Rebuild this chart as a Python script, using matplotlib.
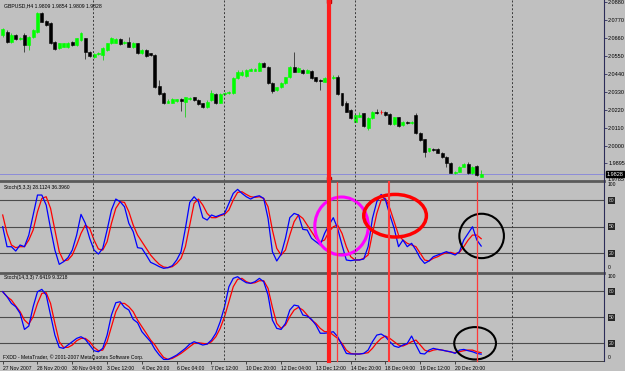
import numpy as np
import matplotlib
matplotlib.use("Agg")
import matplotlib.pyplot as plt
from matplotlib.patches import Ellipse
from matplotlib.lines import Line2D
from matplotlib.transforms import blended_transform_factory

plt.rcParams['font.family'] = ['Liberation Sans', 'DejaVu Sans']

# GBPUSD H4, bar 0 = 27 Nov 2007 12:00
opens = [2.0678, 2.0698, 2.0637, 2.0678, 2.0652, 2.0678, 2.0617, 2.0668, 2.0698, 2.0811,
         2.0766, 2.0749, 2.0637, 2.0597, 2.0607, 2.0603, 2.0637, 2.0617, 2.0648, 2.0658,
         2.0576, 2.0542, 2.0562, 2.0556, 2.0586, 2.0627, 2.0631, 2.0652, 2.0627, 2.0637,
         2.0603, 2.0627, 2.0566, 2.0586, 2.0566, 2.0556, 2.0366, 2.0326, 2.0265, 2.0265,
         2.0277, 2.0289, 2.0271, 2.0289, 2.0297, 2.0281, 2.0261, 2.0240, 2.0281, 2.0318,
         2.0265, 2.0318, 2.0322, 2.0322, 2.0413, 2.0434, 2.0428, 2.0460, 2.0460, 2.0460,
         2.0509, 2.0485, 2.0383, 2.0342, 2.0358, 2.0383, 2.0419, 2.0485, 2.0454, 2.0464,
         2.0448, 2.0460, 2.0419, 2.0405, 2.0393, 2.0409, 2.0413, 2.0419, 2.0322, 2.0261,
         2.0220, 2.0149, 2.0179, 2.0199, 2.0108, 2.0169, 2.0210, 2.0206, 2.0210, 2.0195,
         2.0134, 2.0175, 2.0128, 2.0144, 2.0138, 2.0189, 2.0081, 2.0041, 1.9971, 1.9981,
         1.9979, 1.9959, 1.9935, 1.9898, 1.9833, 1.9843, 1.9874, 1.9890, 1.9833, 1.9878,
         1.9809]
highs = [2.0719, 2.0709, 2.0688, 2.0683, 2.0668, 2.0688, 2.0673, 2.0713, 2.0821, 2.0821,
         2.0770, 2.0755, 2.0642, 2.0631, 2.0631, 2.0637, 2.0642, 2.0662, 2.0698, 2.0662,
         2.0580, 2.0566, 2.0576, 2.0603, 2.0631, 2.0668, 2.0658, 2.0658, 2.0640, 2.0664,
         2.0637, 2.0631, 2.0591, 2.0591, 2.0570, 2.0560, 2.0403, 2.0332, 2.0285, 2.0291,
         2.0289, 2.0293, 2.0301, 2.0301, 2.0301, 2.0285, 2.0265, 2.0281, 2.0342, 2.0322,
         2.0322, 2.0332, 2.0336, 2.0419, 2.0464, 2.0464, 2.0470, 2.0474, 2.0474, 2.0515,
         2.0515, 2.0490, 2.0388, 2.0362, 2.0388, 2.0424, 2.0490, 2.0576, 2.0480, 2.0470,
         2.0470, 2.0464, 2.0424, 2.0409, 2.0419, 2.0419, 2.0434, 2.0434, 2.0326, 2.0277,
         2.0226, 2.0195, 2.0210, 2.0203, 2.0175, 2.0216, 2.0226, 2.0220, 2.0216, 2.0199,
         2.0179, 2.0179, 2.0155, 2.0155, 2.0150, 2.0199, 2.0085, 2.0045, 1.9990, 1.9987,
         1.9985, 1.9963, 1.9940, 1.9902, 1.9850, 1.9878, 1.9894, 1.9904, 1.9878, 1.9882,
         1.9854]
lows = [2.0668, 2.0627, 2.0631, 2.0648, 2.0648, 2.0576, 2.0586, 2.0662, 2.0693, 2.0755,
        2.0734, 2.0623, 2.0586, 2.0591, 2.0603, 2.0597, 2.0612, 2.0612, 2.0642, 2.0529,
        2.0546, 2.0536, 2.0556, 2.0525, 2.0580, 2.0623, 2.0627, 2.0617, 2.0623, 2.0603,
        2.0597, 2.0562, 2.0562, 2.0546, 2.0552, 2.0352, 2.0311, 2.0256, 2.0261, 2.0261,
        2.0271, 2.0216, 2.0179, 2.0283, 2.0277, 2.0250, 2.0230, 2.0230, 2.0277, 2.0256,
        2.0261, 2.0311, 2.0318, 2.0318, 2.0409, 2.0428, 2.0424, 2.0456, 2.0456, 2.0456,
        2.0480, 2.0378, 2.0322, 2.0338, 2.0352, 2.0378, 2.0413, 2.0450, 2.0450, 2.0440,
        2.0444, 2.0409, 2.0393, 2.0342, 2.0388, 2.0405, 2.0409, 2.0311, 2.0246, 2.0206,
        2.0165, 2.0145, 2.0175, 2.0118, 2.0100, 2.0165, 2.0195, 2.0195, 2.0183, 2.0128,
        2.0128, 2.0118, 2.0124, 2.0134, 2.0134, 2.0073, 2.0032, 1.9935, 1.9965, 1.9971,
        1.9955, 1.9927, 1.9874, 1.9833, 1.9829, 1.9839, 1.9870, 1.9829, 1.9829, 1.9819,
        1.9809]
closes = [2.0713, 2.0637, 2.0678, 2.0652, 2.0662, 2.0617, 2.0668, 2.0709, 2.0811, 2.0760,
          2.0739, 2.0627, 2.0591, 2.0627, 2.0627, 2.0631, 2.0617, 2.0658, 2.0688, 2.0576,
          2.0550, 2.0562, 2.0570, 2.0597, 2.0627, 2.0658, 2.0652, 2.0623, 2.0635, 2.0607,
          2.0631, 2.0566, 2.0586, 2.0550, 2.0556, 2.0362, 2.0318, 2.0261, 2.0277, 2.0285,
          2.0285, 2.0277, 2.0297, 2.0295, 2.0281, 2.0256, 2.0236, 2.0271, 2.0322, 2.0261,
          2.0318, 2.0326, 2.0330, 2.0413, 2.0454, 2.0454, 2.0464, 2.0468, 2.0468, 2.0505,
          2.0485, 2.0383, 2.0338, 2.0358, 2.0383, 2.0419, 2.0485, 2.0454, 2.0474, 2.0444,
          2.0464, 2.0413, 2.0399, 2.0399, 2.0413, 2.0415, 2.0419, 2.0318, 2.0250, 2.0210,
          2.0169, 2.0189, 2.0189, 2.0122, 2.0169, 2.0210, 2.0199, 2.0206, 2.0189, 2.0134,
          2.0175, 2.0122, 2.0149, 2.0140, 2.0146, 2.0077, 2.0036, 1.9965, 1.9985, 1.9977,
          1.9959, 1.9931, 1.9898, 1.9837, 1.9843, 1.9874, 1.9890, 1.9833, 1.9870, 1.9823,
          1.9828]

# Stoch(5,3,3): main (blue) and signal (red)
stoch5_main = [49.9, 27.4, 27.4, 22.5, 29.3, 27.4, 40.5, 63.1, 85.6, 85.6,
               74.3, 48.0, 23.6, 7.5, 10.5, 15.0, 23.6, 40.5, 63.8, 53.7,
               36.8, 23.6, 19.1, 25.5, 46.2, 68.7, 81.1, 78.1, 72.4, 53.7,
               44.3, 26.3, 25.5, 18.0, 9.8, 7.5, 4.9, 3.0, 3.8, 6.0,
               12.4, 21.8, 48.0, 77.3, 83.7, 78.1, 60.1, 57.4, 63.1, 61.2,
               63.1, 64.9, 76.2, 87.5, 92.0, 87.5, 83.7, 81.1, 83.7, 84.8,
               81.8, 59.3, 21.8, 11.3, 18.8, 36.8, 60.1, 64.9, 63.1, 46.9,
               46.2, 36.8, 33.0, 29.3, 42.4, 51.8, 60.1, 48.0, 29.3, 12.4,
               11.6, 12.4, 12.4, 13.5, 27.4, 59.3, 78.1, 86.3, 80.0, 63.1,
               48.0, 27.4, 34.9, 27.4, 31.2, 23.6, 14.3, 8.6, 11.3, 16.1,
               18.0, 19.9, 21.8, 19.9, 18.0, 21.8, 34.9, 42.4, 49.9, 34.9,
               28.11]
stoch5_signal = [63.1, 42.4, 29.3, 26.3, 27.4, 27.4, 34.9, 46.2, 66.8, 81.8,
                 83.7, 70.6, 46.2, 21.8, 11.3, 12.4, 18.0, 29.3, 42.4, 51.8,
                 48.0, 34.9, 24.8, 23.6, 33.0, 53.7, 70.6, 78.1, 77.3, 66.8,
                 51.8, 40.5, 33.0, 25.5, 18.0, 12.4, 7.5, 4.5, 3.8, 4.9,
                 8.6, 14.3, 27.4, 51.8, 76.2, 81.1, 74.3, 64.9, 60.1, 60.1,
                 62.3, 63.8, 68.7, 80.0, 88.6, 89.3, 86.3, 83.7, 83.0, 83.7,
                 81.8, 72.4, 46.2, 25.5, 18.0, 23.6, 40.5, 55.6, 63.1, 59.3,
                 51.8, 44.3, 36.8, 33.0, 34.9, 44.3, 49.9, 51.8, 42.4, 27.4,
                 16.1, 12.4, 12.4, 14.3, 18.0, 42.4, 64.9, 80.0, 81.8, 70.6,
                 55.6, 40.5, 34.9, 31.2, 29.3, 27.4, 19.9, 12.4, 11.3, 14.3,
                 16.1, 18.8, 20.6, 21.0, 19.5, 21.0, 27.4, 34.9, 40.5, 40.5,
                 36.40]

# Stoch(14,3,3)
stoch14_main = [79.2, 73.5, 65.8, 62.0, 54.4, 36.0, 39.9, 62.0, 79.2, 81.9,
                75.4, 52.5, 29.5, 15.4, 14.3, 18.1, 21.9, 25.7, 27.6, 24.6,
                18.1, 11.6, 10.4, 14.3, 29.5, 52.5, 66.6, 67.7, 61.3, 58.2,
                47.5, 43.7, 33.4, 27.6, 21.9, 13.1, 6.6, 1.6, 1.6, 3.9,
                6.6, 10.4, 14.3, 19.2, 21.9, 20.0, 18.1, 19.2, 23.8, 31.6,
                44.8, 62.0, 84.9, 94.5, 96.4, 92.6, 89.5, 88.8, 90.7, 94.5,
                90.7, 75.4, 46.7, 37.2, 36.0, 42.9, 58.2, 63.9, 62.8, 52.5,
                51.3, 47.5, 41.0, 31.6, 31.6, 32.2, 33.4, 27.6, 18.1, 8.5,
                7.8, 7.8, 7.8, 8.5, 12.3, 21.9, 29.5, 30.7, 27.6, 21.9,
                16.9, 15.4, 18.1, 20.0, 28.4, 18.1, 8.5, 7.8, 12.3, 14.3,
                13.1, 12.3, 11.2, 10.4, 8.5, 12.3, 13.1, 11.6, 10.4, 8.5,
                7.64]
stoch14_signal = [79.2, 73.5, 69.7, 62.8, 56.3, 46.7, 42.1, 50.6, 65.8, 77.3,
                  78.1, 65.8, 42.9, 21.9, 15.4, 15.4, 18.1, 23.0, 25.7, 25.7,
                  21.9, 15.4, 11.6, 12.3, 21.9, 39.1, 56.3, 65.8, 65.8, 62.0,
                  56.3, 46.7, 39.1, 31.6, 23.8, 18.1, 10.4, 3.9, 1.6, 2.8,
                  5.5, 8.5, 12.3, 16.2, 20.0, 20.7, 20.0, 19.2, 21.9, 27.6,
                  37.2, 50.6, 67.7, 84.9, 93.4, 94.5, 90.7, 88.8, 89.5, 91.8,
                  91.8, 83.0, 61.3, 42.9, 37.2, 41.0, 50.6, 58.2, 61.3, 58.2,
                  52.5, 46.7, 42.9, 37.2, 33.4, 33.4, 29.5, 25.7, 20.0, 12.3,
                  8.5, 7.8, 7.8, 8.5, 9.3, 14.3, 20.7, 25.7, 28.4, 25.7,
                  21.9, 18.1, 16.9, 19.2, 21.9, 23.8, 18.1, 12.3, 10.4, 12.3,
                  13.1, 12.3, 11.2, 10.0, 9.3, 10.4, 11.6, 12.3, 12.3, 10.4,
                  9.32]

price_ticks = [2.0880, 2.0770, 2.0660, 2.0550, 2.0440, 2.0330, 2.0220, 2.0110, 2.0000, 1.9895]
date_labels = ["27 Nov 2007", "28 Nov 20:00", "30 Nov 04:00", "3 Dec 12:00", "4 Dec 20:00",
               "6 Dec 04:00", "7 Dec 12:00", "10 Dec 20:00", "12 Dec 04:00", "13 Dec 12:00",
               "14 Dec 20:00", "18 Dec 04:00", "19 Dec 12:00", "20 Dec 20:00"]
stoch_levels = [20, 50, 80]
grid_bars = [20.8, 50.9, 81.0, 117.1]
marked_bar = 75                     # thick red vertical line
signal_bars = [76.8, 88.9, 109.0]   # thin red lines in the oscillator windows

BG = '#c0c0c0'
W, H = 625.0, 371.0
n = len(opens)
bars = np.arange(n)
o = np.array(opens); c = np.array(closes)
hi = np.array(highs); lo = np.array(lows)

fig = plt.figure(figsize=(W / 100, H / 100), dpi=100, facecolor=BG)


def box(top, bottom):
    return [0, (H - bottom) / H, 604 / W, (bottom - top) / H]


def fy(px):
    return (H - px) / H


ax0 = fig.add_axes(box(0, 179.5))
ax1 = fig.add_axes(box(182, 271))
ax2 = fig.add_axes(box(274, 361))
for ax in (ax0, ax1, ax2):
    ax.set_facecolor(BG)
    for s in ax.spines.values():
        s.set_visible(False)
    ax.set_xlim(-0.62, 138.23)
    ax.set_xticks([])
    ax.set_yticks([])

# candles
body_col = np.where(c > o, '#00ff00', np.where(c < o, '#000000', '#ff0000'))
wick_col = np.where(c > o, '#20d020', np.where(c < o, '#303030', '#ff0000'))
ax0.vlines(bars, lo, hi, colors=wick_col, linewidth=0.6, zorder=2)
ax0.bar(bars, np.abs(c - o), bottom=np.minimum(o, c), width=0.68, color=body_col,
        edgecolor=body_col, linewidth=0.4, zorder=3)
ax0.set_ylim(1.97953, 2.0892)
ax0.axhline(c[-1], color='#8c8cd8', linewidth=0.7, zorder=1)

ax0.yaxis.tick_right()
ax0.set_yticks(price_ticks)
ax0.set_yticklabels(['%.4f' % p for p in price_ticks])
ax0.tick_params(axis='y', length=2, width=0.6, color='#303060', labelsize=4, pad=1)
ax0.text(1.004, c[-1], '%.4f' % c[-1], transform=ax0.get_yaxis_transform(),
         fontsize=4, color='white', va='center', ha='left',
         bbox=dict(boxstyle='square,pad=0.15', fc='black', ec='black'))
ax0.text(1.006, 0.0, '1.9785', transform=ax0.transAxes, fontsize=4, va='center', ha='left')
fig.text(4 / W, fy(5.5), "GBPUSD,H4 1.9809 1.9854 1.9809 1.9828", fontsize=3.7, va='center')

# handles of the selected vertical line
tr0 = blended_transform_factory(ax0.transData, ax0.transAxes)
ax0.plot([marked_bar, marked_bar], [0.992, 0.005], 's', color='#c00000', markersize=3,
         transform=tr0, clip_on=False, zorder=8)

# oscillators
panels = [(ax1, stoch5_main, stoch5_signal, (0, 100.3), "Stoch(5,3,3) 28.1124 36.3960", 187.5),
          (ax2, stoch14_main, stoch14_signal, (-0.2, 99.5), "Stoch(14,3,3) 7.6419 9.3218", 277.5)]
for ax, main, sig, lim, title, ty in panels:
    ax.set_ylim(*lim)
    for lv in stoch_levels:
        ax.axhline(lv, color='#4c4c4c', linewidth=0.8, zorder=1)
    ax.plot(bars, sig, color='#ff0000', linewidth=0.9, zorder=3)
    ax.plot(bars, main, color='#0000ff', linewidth=0.9, zorder=4)
    yt = ax.get_yaxis_transform()
    ax.text(1.006, 97, '100', transform=yt, fontsize=3.6, va='center', ha='left')
    ax.text(1.006, 3.5, '0', transform=yt, fontsize=3.6, va='center', ha='left')
    for lv in stoch_levels:
        ax.text(1.008, lv, str(lv), transform=yt, fontsize=3.6, color='#d0d0d0',
                va='center', ha='left',
                bbox=dict(boxstyle='square,pad=0.2', fc='#262626', ec='none'))
    fig.text(4 / W, fy(ty), title, fontsize=3.6, va='center')

fig.text(3 / W, fy(357.3), "FXDD - MetaTrader, \u00a9 2001-2007 MetaQuotes Software Corp.",
         fontsize=3.6, va='center')

# hand-drawn highlights
ax1.add_patch(Ellipse((77.9, 50.7), 12.3, 65.4, fill=False, ec='#ff00ff', lw=2.2, zorder=6))
ax1.add_patch(Ellipse((90.2, 62.3), 14.4, 48.0, fill=False, ec='#ff0000', lw=2.5, zorder=6))
ax1.add_patch(Ellipse((110.1, 39.5), 10.25, 50.0, fill=False, ec='#000000', lw=1.5, zorder=6))
ax2.add_patch(Ellipse((108.6, 20.1), 9.6, 37.1, fill=False, ec='#000000', lw=1.5, zorder=6,
                      clip_on=False))

# date axis
ax2.set_xticks(bars[::8][:len(date_labels)])
ax2.set_xticklabels(date_labels)
ax2.tick_params(axis='x', length=2.5, width=0.6, color='#303030', labelsize=3.6, pad=1.2)
for lbl in ax2.get_xticklabels():
    lbl.set_ha('left')

# lines crossing the window separators
trf = blended_transform_factory(ax0.transData, fig.transFigure)
for gb in grid_bars:
    fig.add_artist(Line2D([gb, gb], [fy(0), fy(361)], transform=trf, color='#3a3a3a',
                          linewidth=0.7, linestyle=(0, (2, 2)), zorder=0.5))
for sb, lw in zip(signal_bars, [0.9, 1.5, 0.9]):
    fig.add_artist(Line2D([sb, sb], [fy(182), fy(361)], transform=trf, color='#ff3838',
                          linewidth=lw, zorder=5))

# window frame
for py in (180.8, 272.6):
    fig.add_artist(Line2D([0, 604 / W], [fy(py), fy(py)], color='#5a5a5a', linewidth=2.0, zorder=4))
fig.add_artist(Line2D([0, 604 / W], [fy(361.3), fy(361.3)], color='#404040', linewidth=0.7, zorder=4))
fig.add_artist(Line2D([604 / W, 604 / W], [fy(0), fy(361.3)], color='#2c2c58', linewidth=0.8, zorder=4))
fig.add_artist(Line2D([marked_bar, marked_bar], [fy(0), fy(361)], transform=trf, color='#ff1c1c',
                      linewidth=3.0, zorder=7))

fig.savefig('out.png', dpi=100, facecolor=BG)
